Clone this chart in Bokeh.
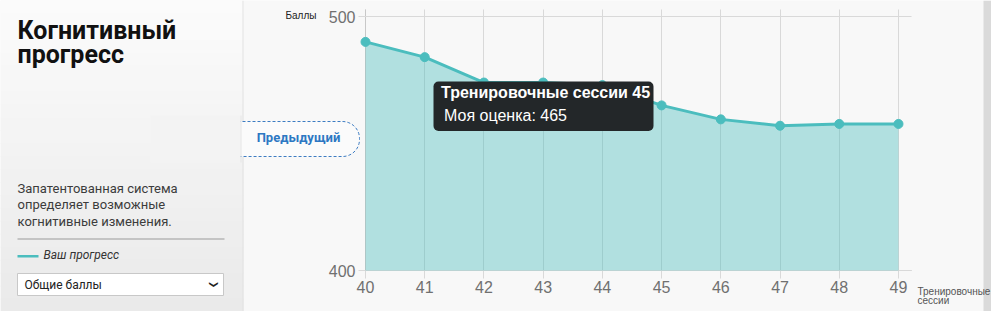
from bokeh.plotting import figure
from bokeh.models import Range1d, FixedTicker, Label, BoxAnnotation
from bokeh.embed import file_html
from bokeh.resources import INLINE

# ---------------- data ----------------
sessions = [40, 41, 42, 43, 44, 45, 46, 47, 48, 49]
scores = [490, 484, 474, 474, 473, 465, 459.5, 457, 457.7, 457.7]
y_ticks = [400, 500]
x_ticks = sessions
y_base = 400

title_lines = ["Когнитивный", "прогресс"]
desc_lines = ["Запатентованная система", "определяет возможные", "когнитивные изменения."]
legend_text = "Ваш прогресс"
select_text = "Общие баллы"
prev_text = "Предыдущий"
y_axis_text = "Баллы"
x_axis_lines = ["Тренировочные", "сессии"]
tip_title = "Тренировочные сессии 45"
tip_body = "Моя оценка: 465"

TEAL = "#4bbdbe"
W, H = 991, 311
PX_X, PX_Y = 59.22, 2.54          # pixels per data unit
X0_PX, Y0_PX = 365, 270           # pixel position of (40, 400)
FR_PX, FT_PX = 911, 9             # right / top edge of plotting area
X_END = 40 + (FR_PX - X0_PX) / PX_X
Y_TOP = 400 + (Y0_PX - FT_PX) / PX_Y

p = figure(width=W, height=H, output_backend="svg", toolbar_location=None,
           x_range=Range1d(40 - X0_PX / PX_X, 40 + (W - X0_PX) / PX_X),
           y_range=Range1d(400 - (H - Y0_PX) / PX_Y, 400 + Y0_PX / PX_Y),
           min_border=0, background_fill_color="#f8f8f8",
           border_fill_color="#f8f8f8")
p.outline_line_color = None
p.xgrid.visible = False
p.ygrid.visible = False

# axes pinned inside the canvas; their inward ticks act as grid lines
for ax in (p.xaxis[0], p.yaxis[0]):
    ax.axis_line_color = "#c8c8c8"
    ax.major_tick_line_color = "#d9d9d9"
    ax.minor_tick_line_color = None
    ax.major_label_text_font = "Liberation Sans"
    ax.major_label_text_font_size = "16px"
    ax.major_label_text_color = "#707070"
    ax.level = "underlay"
p.yaxis.ticker = FixedTicker(ticks=y_ticks)
p.xaxis.ticker = FixedTicker(ticks=x_ticks)
p.yaxis.fixed_location = 40
p.xaxis.fixed_location = 400
p.yaxis.bounds = (400, Y_TOP)
p.xaxis.bounds = (40, X_END)
p.yaxis.major_tick_out = 7
p.yaxis.major_tick_in = FR_PX - X0_PX
p.yaxis.major_label_standoff = 3
p.xaxis.major_tick_out = 8
p.xaxis.major_tick_in = Y0_PX - FT_PX
p.xaxis.major_label_standoff = 2


def box(l, r, t, b, level="underlay", **kw):
    kw.setdefault("line_color", None)
    kw.setdefault("fill_alpha", 1.0)
    kw.setdefault("line_alpha", 1.0)
    a = BoxAnnotation(left=l, right=r, top=t, bottom=b,
                      left_units="canvas", right_units="canvas",
                      top_units="canvas", bottom_units="canvas",
                      level=level, **kw)
    p.add_layout(a)
    return a


def label(x, y, text, size, color="#333333", font="Roboto", style="normal",
          align="left", baseline="alphabetic", angle=0.0, shift=True):
    dy = 0.37 * size if shift else 0
    p.add_layout(Label(x=x, y=y - dy, x_units="canvas", y_units="canvas", text=text,
                       text_font=font, text_font_size="%gpx" % size, text_color=color,
                       text_font_style=style, text_align=align,
                       text_baseline=baseline, angle=angle))


# right edge strip
box(983, W, 0, H, fill_color="#dadada")

# left panel gradient background
n = 24
c0, c1 = 251, 234
for i in range(n):
    c = int(round(c0 + (c1 - c0) * i / (n - 1)))
    box(0, 243, i * H / n, (i + 1) * H / n + 1, fill_color="#%02x%02x%02x" % (c, c, c))
box(242, 243, 0, H, fill_color="#e2e2e2")

# series
p.varea(x=sessions, y1=y_base, y2=scores, fill_color=TEAL, fill_alpha=0.41)
p.line(x=sessions, y=scores, line_color=TEAL, line_width=3)
p.scatter(x=sessions, y=scores, size=9, fill_color=TEAL, line_color=TEAL)

# "previous" pill (its left end runs under the left panel)
box(200, 359, 121, 156, level="annotation", fill_color="#fbfbfb",
    line_color="#3d7cc2", line_dash="3 2", line_width=1, border_radius=17)
box(150, 240, 115, 162, level="annotation", fill_color="#f3f3f3")
box(240, 241, 115, 162, level="annotation", fill_color="#e6e6e6")
label(298, 142.3, prev_text, 13, color="#2d78c3", style="bold", align="center")

# left panel content
label(17, 39.3, title_lines[0], 25, color="#111111", style="bold")
label(17, 63.5, title_lines[1], 25, color="#111111", style="bold")
for i, t in enumerate(desc_lines):
    label(17, 192.5 + i * 16.7, t, 13, color="#3c3c3c")
box(17, 224, 238, 239, level="annotation", fill_color="#9a9a9a")
box(17, 38, 254.5, 257, level="annotation", fill_color=TEAL)
label(43, 258.5, legend_text, 12, color="#333333", style="italic")
box(17, 223, 273, 295, level="annotation", fill_color="#ffffff",
    line_color="#c8c8c8", line_width=1)
label(24, 289.3, select_text, 12, color="#222222")
label(213, 284, "❯", 9, color="#222222", font="DejaVu Sans", style="bold",
      align="center", baseline="middle", angle=-1.5708, shift=False)

# axis titles
label(285, 18.5, y_axis_text, 10, color="#222222", font="Liberation Sans")
label(917, 295, x_axis_lines[0], 10, color="#555555", font="Liberation Sans")
label(917, 304, x_axis_lines[1], 10, color="#555555", font="Liberation Sans")

# tooltip
box(433, 653, 81, 130.5, level="annotation", fill_color="#232729", border_radius=5)
label(440.5, 97.7, tip_title, 16, color="#ffffff", font="Liberation Sans", style="bold")
label(443.5, 120.7, tip_body, 16, color="#ffffff", font="Liberation Sans")

open("out.html", "w").write(file_html(p, INLINE))
